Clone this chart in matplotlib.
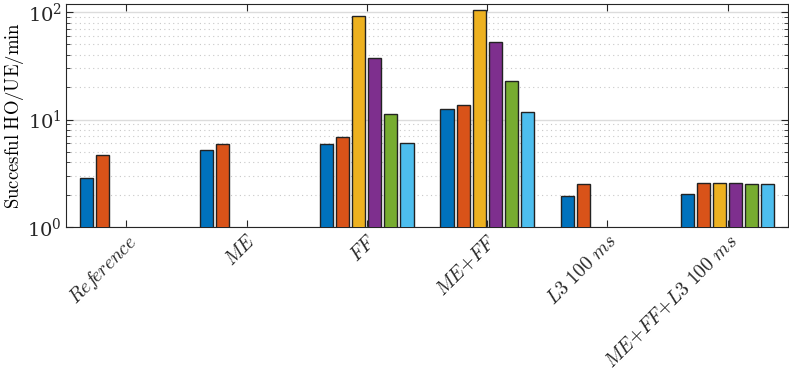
import numpy as np
import matplotlib
matplotlib.use("Agg")
import matplotlib.pyplot as plt

plt.rcParams['mathtext.fontset'] = 'cm'
plt.rcParams['font.family'] = 'serif'
plt.rcParams['font.serif'] = ['DejaVu Serif']

# scenario names (x categories)
scenarios = ['$\\mathit{Ref\\!erence}$', '$\\mathit{ME}$', '$\\mathit{FF}$', '$\\mathit{ME{+}FF}$',
             '$\\mathit{L3\\ 100\\ ms}$', '$\\mathit{ME{+}FF{+}L3\\ 100\\ ms}$']

# successful HO/UE/min, one list per series (nan = no bar)
nan = np.nan
series_1 = [2.84, 5.17, 5.92, 12.5, 1.95, 2.01]
series_2 = [4.68, 5.88, 6.92, 13.7, 2.51, 2.57]
series_3 = [nan, nan, 91.8, 103.7, nan, 2.58]
series_4 = [nan, nan, 37.3, 52.3, nan, 2.57]
series_5 = [nan, nan, 11.2, 22.7, nan, 2.53]
series_6 = [nan, nan, 6.0, 11.8, nan, 2.53]
all_series = [series_1, series_2, series_3, series_4, series_5, series_6]

colors = ['#0072BD', '#D95319', '#EDB120', '#7E2F8E', '#77AC30', '#4DBEEE']

fig = plt.figure(figsize=(7.89, 3.78), dpi=100)
ax = fig.add_axes([0.0837, 0.3995, 0.9150, 0.5895])

x = np.arange(1, len(scenarios) + 1)
n = len(all_series)
slot = 0.8 / n
for i, vals in enumerate(all_series):
    offs = (i - (n - 1) / 2) * slot
    ax.bar(x + offs, vals, width=slot * 0.82, bottom=0, color=colors[i],
           edgecolor='#222222', linewidth=1.0, zorder=3)

ax.set_yscale('log')
ax.set_ylim(1, 118.7)
ax.set_xlim(0.5, 6.5)
ax.set_xticks(x)
ax.set_xticklabels(scenarios, rotation=45, ha='right', rotation_mode='anchor', fontsize=14)
ax.set_ylabel('$\\mathrm{Succesful\\ HO/UE/min}$', fontsize=13.5, labelpad=1)

ax.grid(True, which='major', axis='y', color='#dcdcdc', linestyle='-', linewidth=1.0, zorder=0)
ax.grid(True, which='minor', axis='y', color='#c8c8c8', linestyle=(0, (1, 3)), linewidth=0.8, zorder=0)

ax.tick_params(which='both', direction='in', top=True, right=True, colors='#262626', labelcolor='#262626')
ax.tick_params(which='major', length=5, labelsize=14)
ax.tick_params(axis='y', which='major', pad=3)
ax.tick_params(which='minor', length=3)
ax.tick_params(axis='x', which='minor', top=False, bottom=False)
for sp in ax.spines.values():
    sp.set_color('#262626')
    sp.set_linewidth(0.8)

fig.savefig('out.png', dpi=100)
